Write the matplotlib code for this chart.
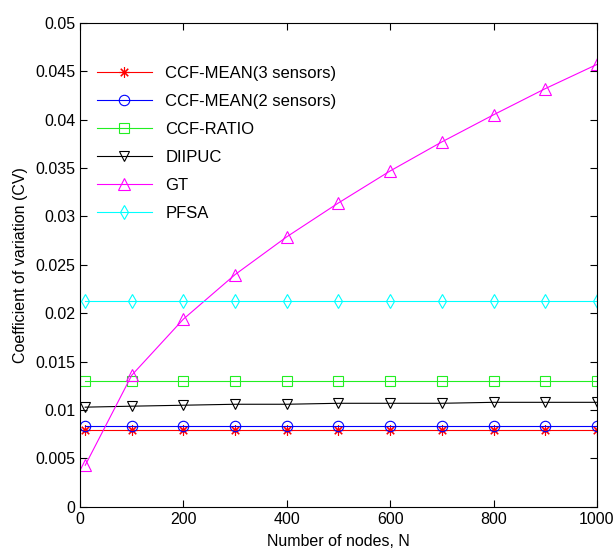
import numpy as np
import matplotlib.pyplot as plt

plt.rcParams['font.family'] = ['Liberation Sans', 'DejaVu Sans']

nodes = [10, 100, 200, 300, 400, 500, 600, 700, 800, 900, 1000]
ccf_mean3 = [0.0079] * 11
ccf_mean2 = [0.0084] * 11
ccf_ratio = [0.0130] * 11
diipuc = [0.0103, 0.0104, 0.0105, 0.0106, 0.0106, 0.0107, 0.0107, 0.0107, 0.0108, 0.0108, 0.0108]
gt = [0.0043, 0.0136, 0.0194, 0.0240, 0.0279, 0.0314, 0.0347, 0.0377, 0.0405, 0.0432, 0.0457]
pfsa = [0.0213] * 11

fig = plt.figure(figsize=(6.16, 5.57), dpi=100)
ax1 = fig.add_axes([0.130, 0.090, 0.839, 0.869])

lw = 0.8
ms = 7.5
ax1.plot(nodes, ccf_mean3, color='red', marker=(8, 2, 0), ms=ms, lw=lw, mew=0.8, label='CCF-MEAN(3 sensors)')
ax1.plot(nodes, ccf_mean2, color='blue', marker='o', mfc='none', ms=ms, lw=lw, mew=0.8, label='CCF-MEAN(2 sensors)')
ax1.plot(nodes, ccf_ratio, color='#22ee22', marker='s', mfc='none', ms=ms, lw=lw, mew=0.8, label='CCF-RATIO')
ax1.plot(nodes, diipuc, color='black', marker='v', mfc='none', ms=ms, lw=lw, mew=0.8, label='DIIPUC')
ax1.plot(nodes, gt, color='magenta', marker='^', mfc='none', ms=ms + 1, lw=lw, mew=0.8, label='GT')
ax1.plot(nodes, pfsa, color='cyan', marker='d', mfc='none', ms=ms, lw=lw, mew=0.8, label='PFSA')

ax1.set_xlim(0, 1000)
ax1.set_ylim(0, 0.05)
ax1.set_xticks(np.arange(0, 1001, 200))
ax1.set_yticks(np.arange(0, 0.0501, 0.005))
ax1.set_yticklabels(['0', '0.005', '0.01', '0.015', '0.02', '0.025', '0.03', '0.035', '0.04', '0.045', '0.05'])
ax1.tick_params(direction='in', top=True, right=True, labelsize=11.5, length=5)
ax1.set_xlabel('Number of nodes, N', fontsize=11.5, labelpad=5)
ax1.set_ylabel('Coefficient of variation (CV)', fontsize=11.5, labelpad=5)

ax1.legend(loc='upper left', bbox_to_anchor=(0.01, 0.935), frameon=False, fontsize=12,
           handlelength=3.3, labelspacing=0.78, borderaxespad=0.3)

plt.savefig('out.png', dpi=100)
